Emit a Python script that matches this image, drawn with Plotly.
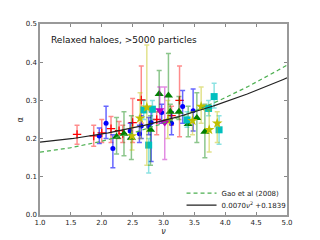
import numpy as np
import plotly.graph_objects as go

# ---- data ----
red_nu    = [1.60, 1.87, 2.00, 2.15, 2.28, 2.34, 2.50, 2.64, 2.89, 3.13, 3.26]
red_alpha = [0.211, 0.207, 0.215, 0.226, 0.221, 0.213, 0.242, 0.301, 0.250, 0.260, 0.300]
red_hi    = [0.235, 0.235, 0.250, 0.258, 0.245, 0.235, 0.305, 0.390, 0.270, 0.285, 0.390]
red_lo    = [0.185, 0.180, 0.190, 0.190, 0.200, 0.190, 0.190, 0.240, 0.210, 0.235, 0.205]

blue_nu    = [1.96, 2.07, 2.18, 2.46, 2.61, 2.64, 2.76, 2.80, 2.97, 3.13, 3.31, 3.48]
blue_alpha = [0.207, 0.240, 0.174, 0.220, 0.213, 0.233, 0.232, 0.242, 0.268, 0.240, 0.284, 0.273]
blue_hi    = [0.228, 0.285, 0.210, 0.240, 0.235, 0.260, 0.255, 0.270, 0.290, 0.270, 0.326, 0.330]
blue_lo    = [0.187, 0.200, 0.124, 0.200, 0.190, 0.200, 0.210, 0.140, 0.240, 0.210, 0.240, 0.220]

green_nu    = [2.24, 2.36, 2.48, 2.79, 2.93, 3.08, 3.11, 3.25, 3.40, 3.54, 3.67]
green_alpha = [0.205, 0.213, 0.202, 0.223, 0.317, 0.313, 0.270, 0.270, 0.238, 0.254, 0.218]
green_hi    = [0.255, 0.270, 0.260, 0.260, 0.378, 0.423, 0.290, 0.310, 0.285, 0.320, 0.290]
green_lo    = [0.160, 0.155, 0.145, 0.130, 0.270, 0.250, 0.245, 0.250, 0.205, 0.190, 0.150]

cyan_nu    = [2.68, 2.82, 2.76, 3.38, 3.73, 3.82, 3.90]
cyan_alpha = [0.275, 0.277, 0.183, 0.249, 0.279, 0.310, 0.223]
cyan_hi    = [0.300, 0.300, 0.200, 0.270, 0.300, 0.345, 0.260]
cyan_lo    = [0.250, 0.250, 0.110, 0.230, 0.260, 0.280, 0.185]

yellow_nu    = [2.49, 2.62, 2.73, 3.07, 3.47, 3.61, 3.74, 3.87]
yellow_alpha = [0.207, 0.253, 0.282, 0.247, 0.247, 0.284, 0.223, 0.240]
yellow_hi    = [0.230, 0.320, 0.445, 0.300, 0.270, 0.335, 0.275, 0.270]
yellow_lo    = [0.170, 0.200, 0.130, 0.200, 0.210, 0.240, 0.165, 0.190]

magenta_nu    = [2.94, 3.02]
magenta_alpha = [0.274, 0.242]
magenta_hi    = [0.335, 0.335]
magenta_lo    = [0.240, 0.145]

# model curves: alpha = a*nu^2 + b
gao_a, gao_b = 0.0095, 0.155
fit_a, fit_b = 0.0070, 0.1839

fig = go.Figure()

def add_series(nu, al, hi, lo, color, barcolor, symbol, size, lw=0):
    up = [h - a for h, a in zip(hi, al)]
    dn = [a - l for a, l in zip(al, lo)]
    fig.add_trace(go.Scatter(
        x=nu, y=al, mode="markers", showlegend=False,
        marker=dict(symbol=symbol, size=size, color=color,
                    line=dict(width=lw, color=color)),
        error_y=dict(type="data", symmetric=False, array=up, arrayminus=dn,
                     color=barcolor, thickness=1.5, width=2.5),
    ))

add_series(red_nu, red_alpha, red_hi, red_lo, "#ff0000", "rgba(255,0,0,0.45)", "cross-thin", 6, 1.3)
add_series(blue_nu, blue_alpha, blue_hi, blue_lo, "#0000ff", "rgba(0,0,255,0.6)", "circle", 5)
add_series(green_nu, green_alpha, green_hi, green_lo, "#008000", "rgba(0,128,0,0.45)", "triangle-up", 8)
add_series(cyan_nu, cyan_alpha, cyan_hi, cyan_lo, "#00bfbf", "rgba(0,191,191,0.45)", "square", 7)
add_series(yellow_nu, yellow_alpha, yellow_hi, yellow_lo, "#bfbf00", "rgba(191,191,0,0.45)", "star", 8)
add_series(magenta_nu, magenta_alpha, magenta_hi, magenta_lo, "#bf00bf", "rgba(191,0,191,0.45)", "triangle-down", 8)

xx = np.linspace(1.0, 5.0, 200)
fig.add_trace(go.Scatter(x=xx, y=gao_a * xx**2 + gao_b, mode="lines",
                         name="Gao et al (2008)", legend="legend",
                         line=dict(color="#4caf50", width=1.2, dash="4px,3px")))
fig.add_trace(go.Scatter(x=xx, y=fit_a * xx**2 + fit_b, mode="lines",
                         name="0.0070<i>ν</i><sup>2</sup> +0.1839", legend="legend2",
                         line=dict(color="#222222", width=1.2)))

axis_common = dict(showgrid=False, zeroline=False, mirror="ticks", ticks="inside",
                   ticklen=3, tickcolor="#888888", showline=True, linecolor="#999999",
                   linewidth=1.5, tickfont=dict(size=7, color="#222222"))

leg_common = dict(xanchor="left", yanchor="middle", bgcolor="rgba(0,0,0,0)",
                  font=dict(size=7), itemwidth=30)

fig.update_layout(
    width=320, height=240,
    margin=dict(l=40, r=33, t=24, b=25, autoexpand=False),
    paper_bgcolor="white", plot_bgcolor="white",
    font=dict(family="DejaVu Sans", size=7, color="#222222"),
    xaxis=dict(range=[1.0, 5.0], dtick=0.5, tickformat=".1f",
               title=dict(text="<i>ν</i>", standoff=2, font=dict(size=8)), **axis_common),
    yaxis=dict(range=[0.0, 0.5], dtick=0.1, tickformat=".1f", **axis_common),
    legend=dict(x=0.573, y=0.115, **leg_common),
    legend2=dict(x=0.573, y=0.052, **leg_common),
    annotations=[
        dict(text="Relaxed haloes, >5000 particles", xref="paper", yref="paper",
             x=0.035, y=0.915, xanchor="left", yanchor="middle",
             showarrow=False, font=dict(size=9, color="#111111")),
        dict(text="α", xref="paper", yref="paper", x=-0.077, y=0.5,
             xanchor="center", yanchor="middle", textangle=-90,
             showarrow=False, font=dict(size=8, color="#222222")),
    ],
)

fig.write_html("out.html", config={"displayModeBar": False},
               post_script="document.body.style.margin='0';document.body.style.overflow='hidden';")
